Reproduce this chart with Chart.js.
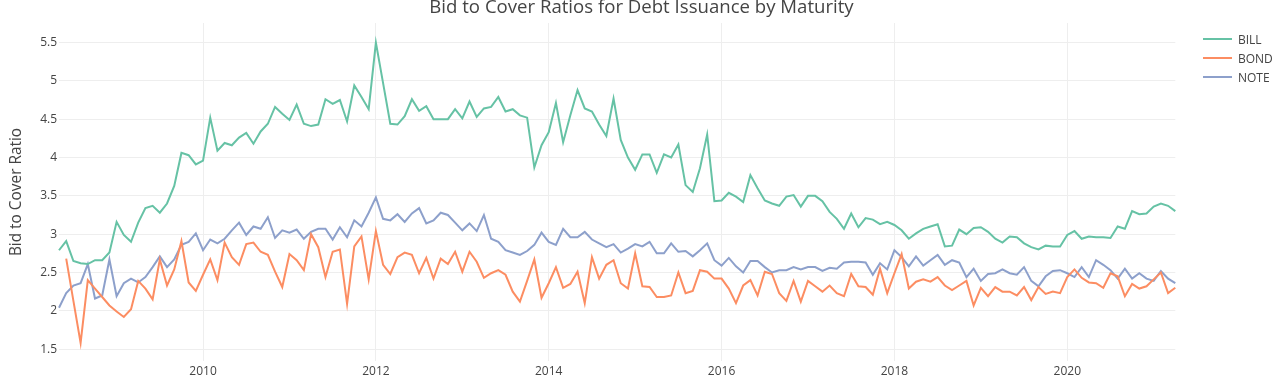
<!DOCTYPE html>
<html>
<head>
<meta charset="utf-8">
<script src="https://cdn.jsdelivr.net/npm/chart.js@4.4.1/dist/chart.umd.min.js"></script>
<style>
  html, body { margin: 0; padding: 0; background: #fff; }
  #wrap { position: relative; width: 1283px; height: 381px; overflow: hidden; font-family: 'Open Sans', sans-serif; }
  #chart { position: absolute; left: 0; top: 0; }
  #title { position: absolute; left: 0; top: -4.5px; width: 1283px; text-align: center; font-size: 18.6px; line-height: 20px; color: #444; white-space: nowrap; }
  #legend { position: absolute; left: 1203px; top: 29.5px; }
  .item { display: flex; align-items: center; height: 19px; font-size: 12px; color: #444; }
  .swatch { width: 29px; height: 2px; margin-right: 6px; }
</style>
</head>
<body>
<div id="wrap">
  <canvas id="chart" width="1283" height="381"></canvas>
  <div id="title">Bid to Cover Ratios for Debt Issuance by Maturity</div>
  <div id="legend"></div>
</div>
<script>
const months = [
  "2008-05","2008-06","2008-07","2008-08","2008-09","2008-10","2008-11","2008-12",
  "2009-01","2009-02","2009-03","2009-04","2009-05","2009-06","2009-07","2009-08","2009-09","2009-10","2009-11","2009-12",
  "2010-01","2010-02","2010-03","2010-04","2010-05","2010-06","2010-07","2010-08","2010-09","2010-10","2010-11","2010-12",
  "2011-01","2011-02","2011-03","2011-04","2011-05","2011-06","2011-07","2011-08","2011-09","2011-10","2011-11","2011-12",
  "2012-01","2012-02","2012-03","2012-04","2012-05","2012-06","2012-07","2012-08","2012-09","2012-10","2012-11","2012-12",
  "2013-01","2013-02","2013-03","2013-04","2013-05","2013-06","2013-07","2013-08","2013-09","2013-10","2013-11","2013-12",
  "2014-01","2014-02","2014-03","2014-04","2014-05","2014-06","2014-07","2014-08","2014-09","2014-10","2014-11","2014-12",
  "2015-01","2015-02","2015-03","2015-04","2015-05","2015-06","2015-07","2015-08","2015-09","2015-10","2015-11","2015-12",
  "2016-01","2016-02","2016-03","2016-04","2016-05","2016-06","2016-07","2016-08","2016-09","2016-10","2016-11","2016-12",
  "2017-01","2017-02","2017-03","2017-04","2017-05","2017-06","2017-07","2017-08","2017-09","2017-10","2017-11","2017-12",
  "2018-01","2018-02","2018-03","2018-04","2018-05","2018-06","2018-07","2018-08","2018-09","2018-10","2018-11","2018-12",
  "2019-01","2019-02","2019-03","2019-04","2019-05","2019-06","2019-07","2019-08","2019-09","2019-10","2019-11","2019-12",
  "2020-01","2020-02","2020-03","2020-04","2020-05","2020-06","2020-07","2020-08","2020-09","2020-10","2020-11","2020-12",
  "2021-01","2021-02","2021-03","2021-04"
];

const billValues = [
  2.79,2.91,2.65,2.62,2.61,2.66,2.66,2.76,
  3.16,2.99,2.90,3.15,3.34,3.37,3.28,3.40,3.63,4.06,4.03,3.91,
  3.96,4.52,4.09,4.19,4.16,4.26,4.32,4.18,4.34,4.44,4.66,4.57,
  4.49,4.69,4.44,4.41,4.43,4.76,4.70,4.75,4.47,4.94,4.79,4.63,
  5.50,4.97,4.44,4.43,4.54,4.76,4.61,4.67,4.50,4.50,4.50,4.63,
  4.51,4.73,4.53,4.64,4.66,4.79,4.60,4.63,4.55,4.52,3.87,4.16,
  4.33,4.71,4.20,4.55,4.88,4.64,4.60,4.43,4.28,4.77,4.23,4.00,
  3.84,4.04,4.04,3.80,4.04,4.00,4.17,3.64,3.55,3.86,4.30,3.43,
  3.44,3.54,3.49,3.42,3.77,3.60,3.44,3.40,3.37,3.49,3.51,3.36,
  3.50,3.50,3.43,3.29,3.20,3.07,3.27,3.09,3.21,3.19,3.13,3.16,
  3.12,3.05,2.94,3.01,3.07,3.10,3.13,2.84,2.85,3.06,3.00,3.08,
  3.09,3.03,2.94,2.89,2.97,2.96,2.88,2.83,2.80,2.85,2.84,2.84,
  2.99,3.04,2.94,2.97,2.96,2.96,2.95,3.10,3.07,3.30,3.26,3.27,
  3.36,3.40,3.37,3.30
];

const bondValues = [
  null,2.68,2.13,1.58,2.40,2.29,2.18,2.07,
  1.99,1.92,2.02,2.39,2.29,2.15,2.67,2.33,2.54,2.91,2.37,2.26,
  2.47,2.67,2.40,2.89,2.70,2.60,2.87,2.89,2.77,2.73,2.51,2.31,
  2.74,2.66,2.53,3.00,2.83,2.44,2.77,2.80,2.09,2.84,2.97,2.41,
  3.04,2.60,2.48,2.70,2.76,2.73,2.49,2.69,2.42,2.68,2.61,2.77,
  2.51,2.77,2.64,2.43,2.49,2.53,2.47,2.25,2.12,2.39,2.67,2.17,
  2.36,2.57,2.30,2.35,2.51,2.10,2.70,2.42,2.60,2.66,2.36,2.29,
  2.75,2.32,2.31,2.18,2.18,2.20,2.50,2.23,2.26,2.53,2.51,2.42,
  2.42,2.29,2.10,2.33,2.40,2.20,2.51,2.48,2.23,2.13,2.39,2.12,
  2.39,2.32,2.25,2.33,2.23,2.19,2.48,2.32,2.31,2.21,2.55,2.23,
  2.49,2.74,2.29,2.38,2.41,2.38,2.44,2.33,2.27,2.33,2.39,2.07,
  2.30,2.19,2.31,2.25,2.25,2.20,2.31,2.14,2.31,2.22,2.25,2.23,
  2.44,2.54,2.43,2.37,2.36,2.30,2.49,2.45,2.19,2.35,2.29,2.32,
  2.41,2.50,2.23,2.30
];

const noteValues = [
  2.04,2.23,2.33,2.36,2.61,2.16,2.20,2.67,
  2.19,2.36,2.42,2.37,2.44,2.57,2.71,2.57,2.67,2.86,2.90,3.01,
  2.79,2.93,2.88,2.94,3.05,3.15,2.99,3.10,3.07,3.22,2.95,3.05,
  3.02,3.06,2.94,3.03,3.07,3.07,2.93,3.09,2.96,3.18,3.10,3.28,
  3.48,3.20,3.18,3.26,3.16,3.27,3.34,3.14,3.18,3.28,3.25,3.15,
  3.05,3.14,3.04,3.25,2.94,2.90,2.79,2.76,2.73,2.78,2.86,3.02,
  2.90,2.86,3.07,2.96,2.96,3.03,2.93,2.88,2.83,2.87,2.76,2.81,
  2.87,2.84,2.90,2.75,2.75,2.88,2.77,2.78,2.71,2.79,2.88,2.66,
  2.59,2.69,2.58,2.50,2.65,2.65,2.57,2.50,2.53,2.53,2.57,2.54,
  2.57,2.57,2.52,2.56,2.55,2.63,2.64,2.64,2.63,2.47,2.62,2.54,
  2.79,2.70,2.58,2.71,2.59,2.66,2.73,2.60,2.66,2.63,2.44,2.55,
  2.39,2.48,2.49,2.54,2.49,2.47,2.57,2.39,2.32,2.45,2.52,2.53,
  2.49,2.44,2.57,2.44,2.66,2.60,2.53,2.42,2.55,2.42,2.49,2.42,
  2.39,2.52,2.42,2.36
];

const seriesNames = ["BILL", "BOND", "NOTE"];
const seriesColors = ["#66c2a5", "#fc8d62", "#8da0cb"];
const yTickValues = [1.5, 2, 2.5, 3, 3.5, 4, 4.5, 5, 5.5];
const xTickLabels = ["2010", "2012", "2014", "2016", "2018", "2020"];

Chart.defaults.font.family = "'Open Sans', sans-serif";
Chart.defaults.color = "#444";

const seriesData = [billValues, bondValues, noteValues];
const datasets = seriesNames.map((name, i) => ({
  label: name,
  data: seriesData[i],
  borderColor: seriesColors[i],
  backgroundColor: seriesColors[i],
  borderWidth: 2,
  pointRadius: 0,
  pointHoverRadius: 0,
  tension: 0,
  fill: false,
  spanGaps: false
}));

const chart = new Chart(document.getElementById("chart"), {
  type: "line",
  data: { labels: months, datasets: datasets },
  options: {
    responsive: false,
    animation: false,
    devicePixelRatio: 1,
    layout: { padding: { top: 23, right: 107.7, left: 0, bottom: 0 } },
    plugins: {
      legend: { display: false },
      title: { display: false },
      tooltip: { enabled: false }
    },
    scales: {
      x: {
        type: "category",
        offset: false,
        grid: { color: "#eeeeee", lineWidth: 1, drawTicks: false },
        border: { display: false },
        ticks: {
          autoSkip: false,
          maxRotation: 0,
          padding: 3,
          font: { size: 12 },
          color: "#444",
          callback: function (v) { return months[v].slice(0, 4); }
        },
        afterBuildTicks: function (scale) {
          scale.ticks = scale.ticks.filter(t => {
            const m = months[t.value];
            return m && m.slice(5) === "01" && xTickLabels.includes(m.slice(0, 4));
          });
        },
        afterFit: function (scale) { scale.height = 20; }
      },
      y: {
        type: "linear",
        min: 1.345,
        max: 5.755,
        grid: { color: "#eeeeee", lineWidth: 1, drawTicks: false },
        border: { display: false },
        title: {
          display: true,
          text: "Bid to Cover Ratio",
          font: { size: 15.4 },
          color: "#444",
          padding: { top: 7.8, bottom: 0 }
        },
        ticks: {
          padding: 2,
          font: { size: 12 },
          color: "#444",
          callback: function (v) { return String(v); }
        },
        afterBuildTicks: function (scale) {
          scale.ticks = yTickValues.map(v => ({ value: v }));
        },
        afterFit: function (scale) { scale.width = 59; }
      }
    }
  }
});

// HTML legend built from the chart's datasets
const legendEl = document.getElementById("legend");
chart.data.datasets.forEach(ds => {
  const row = document.createElement("div");
  row.className = "item";
  const sw = document.createElement("span");
  sw.className = "swatch";
  sw.style.background = ds.borderColor;
  const tx = document.createElement("span");
  tx.textContent = ds.label;
  row.appendChild(sw);
  row.appendChild(tx);
  legendEl.appendChild(row);
});
</script>
</body>
</html>
